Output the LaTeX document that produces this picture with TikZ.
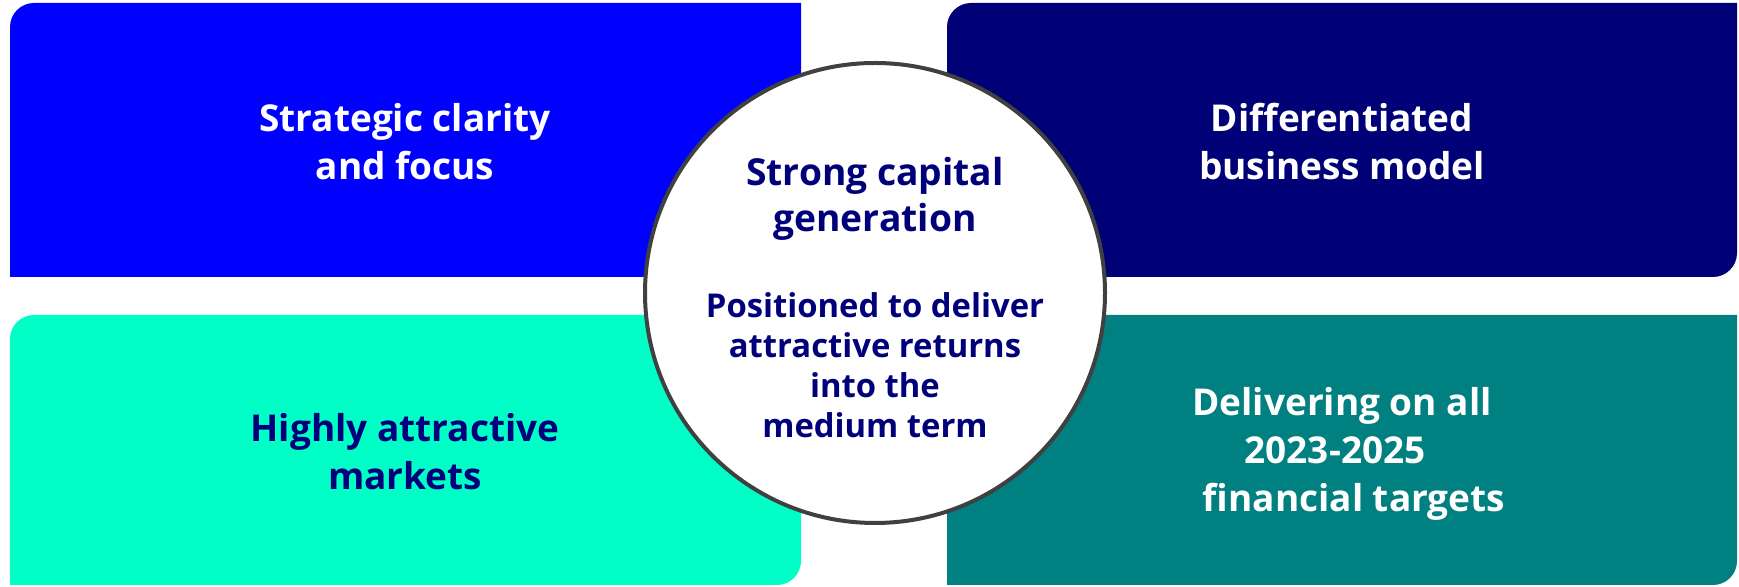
\documentclass[tikz,border=0pt]{standalone}
\usepackage{fontspec}
\setmainfont{Open Sans}
\usepackage{tikz}
\usetikzlibrary{positioning}
\definecolor{tlblue}{HTML}{0000FF}
\definecolor{trnavy}{HTML}{000077}
\definecolor{blcyan}{HTML}{00FFC6}
\definecolor{brteal}{HTML}{008080}
\definecolor{corenavy}{HTML}{00007A}
\definecolor{ringgray}{HTML}{404040}
\tikzset{
    box label/.style={
        align=center,
        font=\bfseries\fontsize{18.5}{24}\selectfont,
        text=white
    },
    core label/.style={
        align=center,
        font=\bfseries\fontsize{18.6}{23}\selectfont,
        text=corenavy
    },
    core small/.style={
        core label,
        font=\bfseries\fontsize{16.4}{20}\selectfont
    },
}

\begin{document}
\begin{tikzpicture}[x=0.5pt,y=0.5pt]
		\useasboundingbox (0,0) rectangle (1739,587);
		% the four quarters
		\fill[tlblue] (10,310) -- (10,560) arc[start angle=180,end angle=90,radius=12pt] -- (801,584) -- (801,310) -- cycle;
		\fill[trnavy] (947,310) -- (947,560) arc[start angle=180,end angle=90,radius=12pt] -- (1737,584) -- (1737,334) arc[start angle=0,end angle=-90,radius=12pt] -- cycle;
		\fill[blcyan] (10,2) -- (10,248) arc[start angle=180,end angle=90,radius=12pt] -- (801,272) -- (801,26) arc[start angle=0,end angle=-90,radius=12pt] -- cycle;
		\fill[brteal] (947,2) -- (947,272) -- (1737,272) -- (1737,26) arc[start angle=0,end angle=-90,radius=12pt] -- cycle;

		\node[box label] (clarity) at (405,445) {Strategic clarity\\and focus};
		\node[box label] (model) at (1342,445) {Differentiated\\business model};
		\node[box label,text=corenavy] (markets) at (405,135) {Highly attractive\\markets};
		\node[box label] (targets) at (1342,133) {Delivering on all\\2023-2025\kern7pt\\\hspace*{12pt}financial targets};

		% centre circle
		\node[circle,draw=ringgray,line width=2pt,fill=white,minimum size=230pt] (core) at (875,294) {};
		\node[core label] (capital) at (875,388) {Strong capital\\generation};
		\node[core small] (returns) at (875,222) {Positioned to deliver\\attractive returns\\into the\\medium term};
	\end{tikzpicture}
\end{document}
